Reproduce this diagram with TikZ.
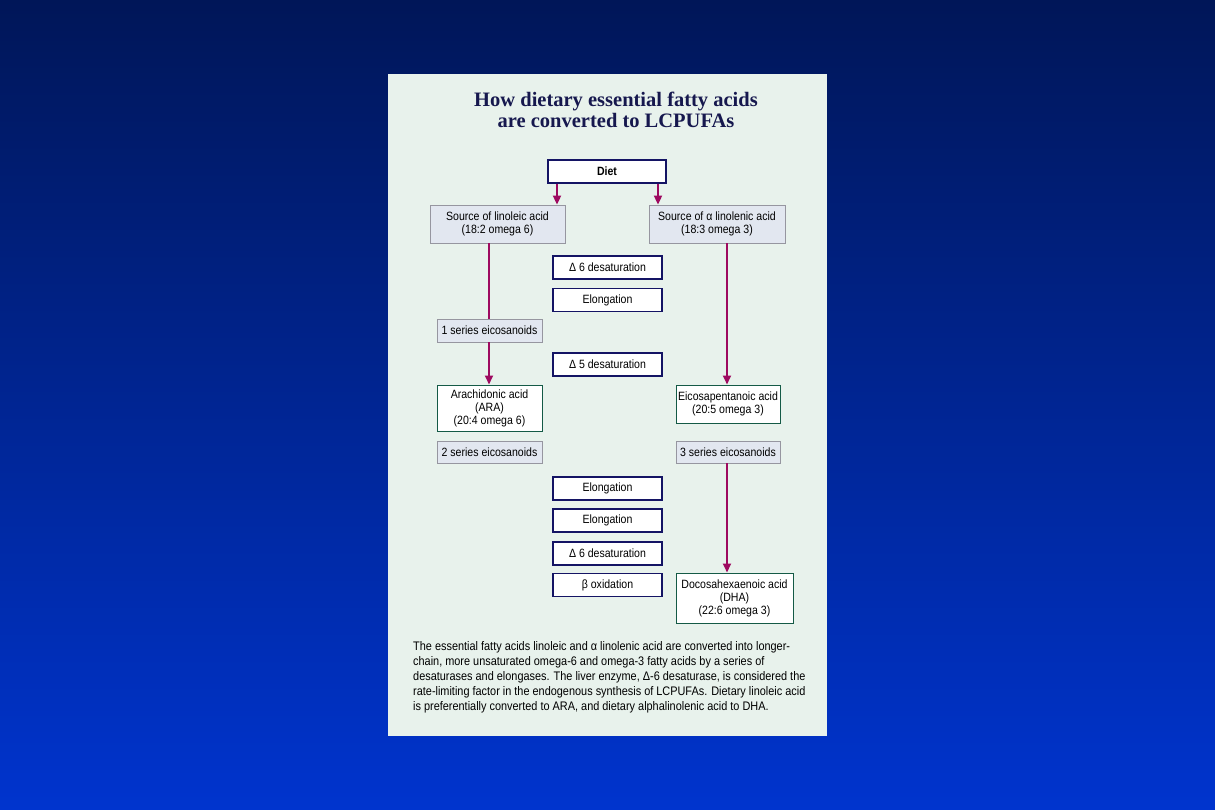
\documentclass[tikz,border=0pt]{standalone}
\usepackage{fontspec}
\setmainfont{Liberation Sans}[FakeStretch=0.88]
\newfontfamily\titlefont{Liberation Serif}[FakeStretch=1.0]
\usetikzlibrary{arrows.meta,shadows}
\definecolor{bgtop}{RGB}{0,22,88}
\definecolor{bgbot}{RGB}{0,52,206}
\definecolor{panel}{RGB}{232,242,236}
\definecolor{navy}{RGB}{20,20,100}
\definecolor{titlecol}{RGB}{22,24,78}
\definecolor{teal}{RGB}{20,90,70}
\definecolor{grayfill}{RGB}{226,231,240}
\definecolor{grayedge}{RGB}{150,150,160}
\definecolor{arrowcol}{RGB}{158,10,96}
\tikzset{
  base/.style={rectangle, inner sep=1pt, align=center, text=black,
    font=\fontsize{12}{13}\selectfont},
  procbox/.style={base, draw=navy, line width=1.2pt, fill=white,
    minimum width=109pt, minimum height=23pt,
    drop shadow={shadow xshift=0.8pt, shadow yshift=-0.8pt, fill=navy, opacity=1}},
  graybox/.style={base, draw=grayedge, line width=0.8pt, fill=grayfill,
    drop shadow={shadow xshift=1pt, shadow yshift=-1pt, fill=gray, opacity=1}},
  greenbox/.style={base, draw=teal, line width=1pt, fill=white,
    drop shadow={shadow xshift=1pt, shadow yshift=-1pt, fill=teal, opacity=1}},
  flow/.style={draw=arrowcol, line width=1.8pt},
  flowarrow/.style={flow, -{Triangle[width=8pt,length=9pt]}},
}
\begin{document}
\begin{tikzpicture}[x=1pt,y=-1pt]
\useasboundingbox (0,0) rectangle (1215,810);
\shade[top color=bgtop, bottom color=bgbot] (0,0) rectangle (1215,810);
\fill[panel] (388,74) rectangle (827,736);
% title
\node[text=titlecol, font=\titlefont\bfseries\fontsize{20.5}{21}\selectfont, align=center] (title) at (616,109.5)
  {How dietary essential fatty acids\\are converted to LCPUFAs};
% diet
\node[procbox, minimum width=118pt, minimum height=23pt, font=\bfseries\fontsize{12}{12}\selectfont] (diet) at (607,171.5) {Diet};
% sources
\node[graybox, minimum width=135pt, minimum height=38pt] (srcL) at (497.5,224) {Source of linoleic acid\\(18:2 omega 6)};
\node[graybox, minimum width=136pt, minimum height=38pt] (srcR) at (717,224) {Source of α linolenic acid\\(18:3 omega 3)};
% process boxes
\node[procbox] (d6a) at (607.5,267.5) {Δ 6 desaturation};
\node[procbox] (el1) at (607.5,300) {Elongation};
\node[procbox] (d5) at (607.5,364.5) {Δ 5 desaturation};
\node[procbox] (el2) at (607.5,488.5) {Elongation};
\node[procbox] (el3) at (607.5,520.5) {Elongation};
\node[procbox] (d6b) at (607.5,553.5) {Δ 6 desaturation};
\node[procbox] (box) at (607.5,585) {β oxidation};
% eicosanoids
\node[graybox, minimum width=105pt, minimum height=23pt] (e1) at (489.5,330.5) {1 series eicosanoids};
\node[graybox, minimum width=105pt, minimum height=22pt] (e2) at (489.5,452) {2 series eicosanoids};
\node[graybox, minimum width=104pt, minimum height=22pt] (e3) at (728,452) {3 series eicosanoids};
% products
\node[greenbox, minimum width=105pt, minimum height=46pt] (ara) at (489.5,408) {Arachidonic acid\\(ARA)\\(20:4 omega 6)};
\node[greenbox, minimum width=104pt, minimum height=38pt] (epa) at (728,404) {Eicosapentanoic acid\\(20:5 omega 3)};
\node[greenbox, minimum width=117pt, minimum height=50pt] (dha) at (734.5,598) {Docosahexaenoic acid\\(DHA)\\(22:6 omega 3)};
% connectors
\draw[flowarrow] (diet.south -| 557,0) -- (srcL.north -| 557,0);
\draw[flowarrow] (diet.south -| 658,0) -- (srcR.north -| 658,0);
\draw[flow] (srcL.south -| 489,0) -- (e1.north -| 489,0);
\draw[flowarrow] (e1.south -| 489,0) -- (ara.north -| 489,0);
\draw[flowarrow] (srcR.south -| 727,0) -- (epa.north -| 727,0);
\draw[flowarrow] (e3.south -| 727,0) -- (dha.north -| 727,0);
% caption
\node[anchor=base west, inner sep=0pt, align=left, text=black,
  font=\fontsize{12.4}{15}\selectfont] (cap) at (413,710)
  {The essential fatty acids linoleic and α linolenic acid are converted into longer-\\
   chain, more unsaturated omega-6 and omega-3 fatty acids by a series of\\
   desaturases and elongases. The liver enzyme, Δ-6 desaturase, is considered the\\
   rate-limiting factor in the endogenous synthesis of LCPUFAs. Dietary linoleic acid\\
   is preferentially converted to ARA, and dietary alphalinolenic acid to DHA.};
\end{tikzpicture}
\end{document}
